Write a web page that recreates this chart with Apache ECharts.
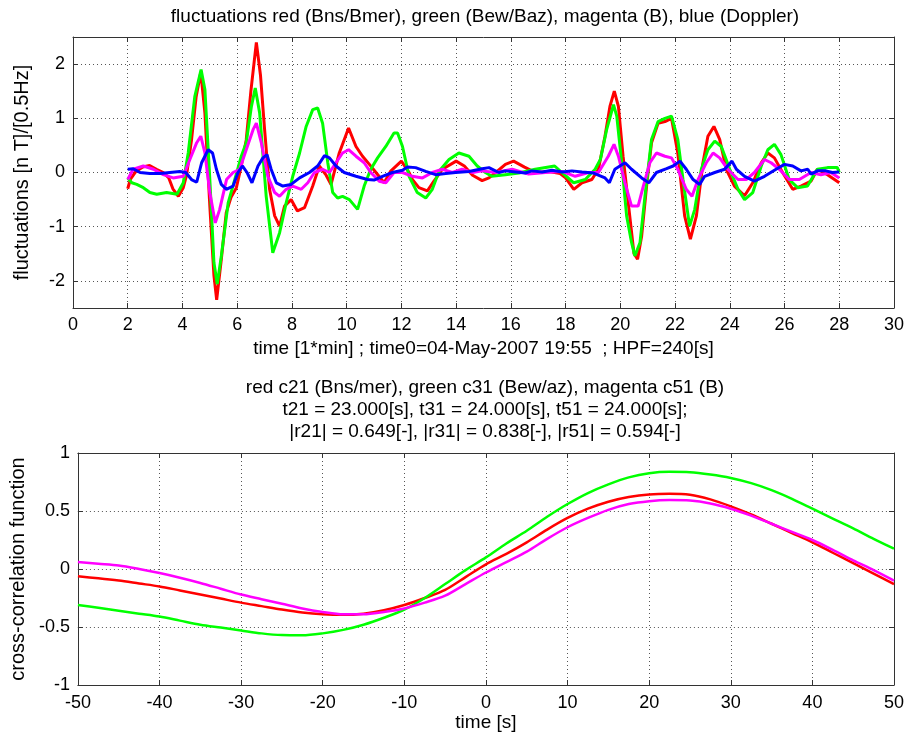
<!DOCTYPE html>
<html>
<head>
<meta charset="utf-8">
<script src="https://cdn.jsdelivr.net/npm/echarts@6/dist/echarts.min.js"></script>
<style>
  html, body { margin: 0; padding: 0; background: #fff; }
  #chart { width: 907px; height: 738px; }
</style>
</head>
<body>
<div id="chart"></div>
<script>
// top panel: fluctuations, time in minutes
const redBns = [[2.0,-0.3],[2.1,-0.12],[2.3,0.02],[2.55,0.1],[2.8,0.13],[3.05,0.06],[3.3,0.0],[3.5,-0.1],[3.65,-0.3],[3.85,-0.44],[4.03,-0.28],[4.15,-0.05],[4.33,0.6],[4.5,1.4],[4.67,1.85],[4.82,1.1],[5.0,-0.62],[5.15,-1.9],[5.25,-2.35],[5.42,-1.6],[5.6,-0.74],[5.78,-0.45],[5.97,-0.28],[6.15,0.12],[6.33,0.6],[6.5,1.5],[6.7,2.4],[6.85,1.8],[7.0,0.8],[7.18,-0.3],[7.37,-0.8],[7.55,-0.99],[7.73,-0.62],[7.97,-0.5],[8.2,-0.71],[8.46,-0.65],[8.76,-0.25],[9.0,0.12],[9.25,-0.05],[9.43,-0.22],[9.73,0.36],[10.07,0.82],[10.34,0.48],[10.58,0.3],[10.83,0.15],[11.07,0.0],[11.37,-0.19],[11.6,0.02],[12.0,0.21],[12.28,0.0],[12.4,-0.13],[12.64,-0.28],[12.95,-0.34],[13.19,-0.16],[13.5,0.06],[14.0,0.21],[14.3,0.12],[14.6,-0.05],[14.95,-0.15],[15.2,-0.1],[15.45,0.0],[15.8,0.15],[16.1,0.21],[16.5,0.1],[16.9,0.0],[17.4,0.02],[17.8,-0.02],[18.0,-0.1],[18.3,-0.31],[18.6,-0.19],[18.96,-0.13],[19.2,0.06],[19.44,0.67],[19.62,1.22],[19.78,1.5],[19.93,1.22],[20.1,0.3],[20.29,-0.56],[20.5,-1.5],[20.63,-1.6],[20.78,-1.17],[20.96,-0.25],[21.14,0.55],[21.38,0.91],[21.63,0.94],[21.87,1.0],[22.1,0.36],[22.35,-0.8],[22.56,-1.23],[22.78,-0.8],[23.02,0.18],[23.2,0.67],[23.42,0.85],[23.63,0.61],[23.87,0.06],[24.17,-0.25],[24.54,-0.43],[24.84,-0.19],[25.15,0.18],[25.39,0.36],[25.63,0.27],[25.93,0.0],[26.3,-0.31],[26.6,-0.25],[26.97,-0.16],[27.2,0.06],[27.57,-0.04],[28.0,-0.19]];
const greenBew = [[2.0,-0.1],[2.15,-0.19],[2.33,-0.22],[2.57,-0.28],[2.81,-0.37],[3.06,-0.4],[3.42,-0.37],[3.8,-0.4],[4.03,-0.19],[4.21,0.36],[4.45,1.4],[4.68,1.9],[4.82,1.53],[5.0,-0.13],[5.15,-1.66],[5.27,-2.06],[5.42,-1.54],[5.67,-0.56],[5.91,-0.13],[6.15,0.3],[6.33,0.55],[6.52,1.22],[6.66,1.56],[6.82,1.1],[7.06,-0.44],[7.3,-1.48],[7.55,-1.11],[7.79,-0.56],[8.03,-0.07],[8.28,0.36],[8.52,0.85],[8.76,1.16],[8.94,1.19],[9.12,0.91],[9.31,0.18],[9.49,-0.37],[9.67,-0.47],[9.85,-0.44],[10.1,-0.5],[10.4,-0.68],[10.64,-0.25],[10.88,0.06],[11.13,0.27],[11.43,0.48],[11.73,0.73],[11.86,0.73],[12.04,0.48],[12.28,-0.07],[12.58,-0.37],[12.89,-0.47],[13.13,-0.31],[13.37,0.02],[13.74,0.24],[14.1,0.36],[14.47,0.3],[14.77,0.12],[15.07,0.0],[15.3,-0.07],[15.8,-0.04],[16.29,-0.01],[16.89,0.06],[17.6,0.12],[18.0,-0.06],[18.3,-0.19],[18.72,-0.13],[19.08,0.06],[19.27,0.24],[19.5,0.79],[19.75,1.25],[19.87,1.04],[20.05,0.18],[20.23,-0.8],[20.41,-1.29],[20.53,-1.54],[20.72,-1.29],[20.9,-0.44],[21.14,0.61],[21.38,0.94],[21.63,1.0],[21.87,1.04],[22.1,0.61],[22.29,-0.13],[22.53,-0.99],[22.72,-0.68],[22.96,0.06],[23.2,0.42],[23.45,0.58],[23.69,0.48],[24.0,0.06],[24.3,-0.31],[24.54,-0.5],[24.84,-0.37],[25.15,0.12],[25.39,0.42],[25.63,0.52],[25.87,0.33],[26.17,-0.13],[26.48,-0.28],[26.84,-0.25],[27.2,0.06],[27.57,0.09],[27.93,0.09],[28.0,0.0]];
const magentaB = [[2.0,-0.13],[2.2,0.06],[2.57,0.12],[2.94,0.06],[3.3,-0.04],[3.66,-0.1],[4.03,-0.07],[4.27,0.24],[4.52,0.55],[4.67,0.67],[4.82,0.36],[5.0,-0.37],[5.2,-0.93],[5.36,-0.68],[5.61,-0.13],[5.85,0.0],[6.09,0.06],[6.33,0.42],[6.58,0.79],[6.7,0.91],[6.88,0.55],[7.12,-0.07],[7.37,-0.37],[7.55,-0.44],[7.79,-0.31],[8.03,-0.25],[8.34,-0.31],[8.58,-0.19],[8.82,0.0],[9.12,0.06],[9.37,0.0],[9.61,0.18],[9.85,0.36],[10.07,0.42],[10.34,0.3],[10.64,0.18],[10.88,0.0],[11.19,-0.16],[11.43,-0.19],[11.73,0.0],[12.04,0.0],[12.4,-0.07],[12.77,-0.1],[13.13,0.0],[13.5,0.06],[13.86,0.0],[14.22,0.06],[14.6,0.0],[14.95,0.03],[15.44,0.0],[16.05,0.06],[16.65,-0.03],[17.26,0.0],[17.87,0.02],[18.35,-0.07],[18.84,0.0],[19.2,0.0],[19.56,0.3],[19.77,0.52],[19.93,0.3],[20.17,-0.19],[20.41,-0.62],[20.65,-0.62],[20.84,-0.25],[21.08,0.18],[21.32,0.36],[21.63,0.3],[21.87,0.27],[22.1,0.06],[22.41,-0.31],[22.62,-0.44],[22.84,-0.13],[23.14,0.18],[23.39,0.36],[23.63,0.27],[23.93,0.06],[24.3,-0.13],[24.6,-0.13],[24.9,0.0],[25.27,0.24],[25.51,0.18],[25.81,0.06],[26.17,-0.13],[26.54,-0.13],[26.97,0.0],[27.33,-0.04],[27.69,0.0],[28.0,-0.1]];
const blueDoppler = [[2.0,0.06],[2.2,0.07],[2.45,0.0],[2.81,-0.02],[3.18,-0.02],[3.54,0.0],[3.9,0.02],[4.12,0.0],[4.33,-0.13],[4.52,-0.18],[4.7,0.18],[4.94,0.42],[5.1,0.36],[5.24,0.06],[5.42,-0.22],[5.6,-0.31],[5.85,-0.25],[6.03,0.0],[6.19,0.12],[6.36,0.0],[6.54,-0.19],[6.76,0.12],[6.94,0.27],[7.09,0.33],[7.24,0.06],[7.43,-0.19],[7.67,-0.25],[7.97,-0.22],[8.28,-0.1],[8.64,0.0],[8.94,0.12],[9.19,0.31],[9.37,0.27],[9.61,0.12],[9.91,0.0],[10.34,-0.07],[10.76,-0.13],[11.0,-0.14],[11.31,-0.07],[11.67,0.0],[12.04,0.04],[12.22,0.1],[12.52,0.09],[12.89,0.02],[13.25,-0.04],[13.62,-0.02],[13.98,0.0],[14.47,0.02],[14.95,0.07],[15.2,0.09],[15.56,0.0],[15.8,0.03],[16.17,0.01],[16.53,-0.01],[16.77,0.03],[17.14,0.01],[17.5,0.04],[17.87,0.01],[18.23,0.03],[18.6,0.01],[19.02,-0.01],[19.44,-0.1],[19.6,-0.19],[19.8,0.06],[20.17,0.18],[20.41,0.06],[20.78,-0.1],[21.04,-0.19],[21.32,0.0],[21.69,0.07],[21.93,0.12],[22.18,0.21],[22.41,0.06],[22.66,-0.13],[22.9,-0.22],[23.08,-0.07],[23.45,0.0],[23.81,0.06],[24.08,0.21],[24.24,0.06],[24.54,-0.07],[24.9,-0.16],[25.27,-0.07],[25.69,0.06],[26.0,0.15],[26.3,0.12],[26.6,0.03],[26.85,0.06],[26.97,-0.03],[27.2,0.03],[27.51,0.03],[27.75,0.0],[28.0,0.01]];

// bottom panel: cross-correlation vs lag [s]
const lagSec = [-50,-47.5,-45,-42.5,-40,-37.5,-35,-32.5,-30,-27.5,-25,-22.5,-20,-17.5,-15,-12.5,-10,-7.5,-5,-2.5,0,2.5,5,7.5,10,12.5,15,17.5,20,22.5,25,27.5,30,32.5,35,37.5,40,42.5,45,47.5,50];
const c21 = [-0.063,-0.08,-0.1,-0.125,-0.15,-0.185,-0.22,-0.255,-0.29,-0.32,-0.35,-0.375,-0.39,-0.395,-0.385,-0.355,-0.31,-0.25,-0.18,-0.07,0.04,0.13,0.23,0.34,0.44,0.52,0.58,0.62,0.643,0.649,0.64,0.6,0.54,0.47,0.39,0.31,0.23,0.14,0.05,-0.04,-0.13];
const c31 = [-0.31,-0.335,-0.36,-0.385,-0.41,-0.445,-0.48,-0.505,-0.53,-0.555,-0.57,-0.572,-0.555,-0.525,-0.48,-0.42,-0.35,-0.25,-0.13,-0.01,0.1,0.22,0.33,0.45,0.56,0.655,0.73,0.79,0.826,0.838,0.835,0.815,0.785,0.74,0.68,0.605,0.52,0.435,0.35,0.26,0.175];
const c51 = [0.06,0.045,0.03,0.0,-0.035,-0.075,-0.12,-0.17,-0.22,-0.26,-0.3,-0.34,-0.37,-0.39,-0.39,-0.37,-0.34,-0.29,-0.23,-0.13,-0.03,0.06,0.15,0.26,0.36,0.44,0.51,0.56,0.585,0.594,0.59,0.565,0.52,0.46,0.39,0.32,0.25,0.165,0.075,-0.01,-0.1];

const topYTicks = [-2, -1, 0, 1, 2];

const FONT = "'Liberation Sans', Arial, sans-serif";
const AXIS_COLOR = '#333';

function pair(xs, ys) {
  return xs.map((x, i) => [x, ys[i]]);
}

function mainAxis(extra) {
  return Object.assign({
    type: 'value',
    axisLine: { show: true, onZero: false, lineStyle: { color: AXIS_COLOR, width: 1 } },
    axisTick: { show: true, inside: true, length: 5, lineStyle: { color: AXIS_COLOR } },
    axisLabel: { color: '#000', fontSize: 18, fontFamily: FONT, margin: 8 },
    splitLine: { show: true, lineStyle: { color: '#555', width: 1, type: [1, 3] } },
    nameTextStyle: { color: '#000', fontSize: 19, fontFamily: FONT },
  }, extra);
}

function boxAxis(extra) {
  return Object.assign({
    type: 'value',
    axisLine: { show: true, onZero: false, lineStyle: { color: AXIS_COLOR, width: 1 } },
    axisTick: { show: true, inside: true, length: 5, lineStyle: { color: AXIS_COLOR } },
    axisLabel: { show: false },
    splitLine: { show: false },
  }, extra);
}

function line(name, data, color, width, xi, yi, smooth) {
  return {
    name,
    type: 'line',
    data,
    xAxisIndex: xi,
    yAxisIndex: yi,
    symbol: 'none',
    smooth: smooth || false,
    lineStyle: { color, width },
    itemStyle: { color },
    z: 3,
  };
}

const chart = echarts.init(document.getElementById('chart'), null, { renderer: 'canvas' });

const option = {
  animation: false,
  backgroundColor: '#fff',
  grid: [
    { left: 73, top: 37, width: 824, height: 271 },
    { left: 73, top: 453, width: 824, height: 232 },
  ],
  xAxis: [
    mainAxis({
      gridIndex: 0, position: 'bottom', min: 0, max: 30, interval: 2,
      name: 'time [1*min] ; time0=04-May-2007 19:55  ; HPF=240[s]',
      nameLocation: 'middle', nameGap: 31,
    }),
    boxAxis({ gridIndex: 0, position: 'top', min: 0, max: 30, interval: 2 }),
    mainAxis({
      gridIndex: 1, position: 'bottom', min: -50, max: 50, interval: 10,
      axisLabel: { color: '#000', fontSize: 18, fontFamily: FONT, margin: 9 },
      name: 'time [s]', nameLocation: 'middle', nameGap: 25,
    }),
    boxAxis({ gridIndex: 1, position: 'top', min: -50, max: 50, interval: 10 }),
  ],
  yAxis: [
    mainAxis({
      gridIndex: 0, position: 'left', min: -2.5, max: 2.5,
      axisTick: { show: true, inside: true, length: 5, lineStyle: { color: AXIS_COLOR }, customValues: topYTicks },
      axisLabel: { color: '#000', fontSize: 18, fontFamily: FONT, margin: 8, customValues: topYTicks },
      name: 'fluctuations [n T]/[0.5Hz]', nameLocation: 'middle', nameGap: 41,
      nameTextStyle: { color: '#000', fontSize: 20, fontFamily: FONT },
    }),
    boxAxis({
      gridIndex: 0, position: 'right', min: -2.5, max: 2.5,
      axisTick: { show: true, inside: true, length: 5, lineStyle: { color: AXIS_COLOR }, customValues: topYTicks },
    }),
    mainAxis({
      gridIndex: 1, position: 'left', min: -1, max: 1, interval: 0.5,
      name: 'cross-correlation function', nameLocation: 'middle', nameGap: 42,
      nameTextStyle: { color: '#000', fontSize: 20, fontFamily: FONT },
    }),
    boxAxis({ gridIndex: 1, position: 'right', min: -1, max: 1, interval: 0.5 }),
  ],
  graphic: [
    {
      type: 'text', x: 485, y: 17,
      style: {
        text: 'fluctuations red (Bns/Bmer), green (Bew/Baz), magenta (B), blue (Doppler)',
        font: '19px ' + FONT, fill: '#000', textAlign: 'center', textVerticalAlign: 'middle',
      },
    },
    {
      type: 'text', x: 485, y: 410,
      style: {
        text: 'red c21 (Bns/mer), green c31 (Bew/az), magenta c51 (B)\n'
          + 't21 = 23.000[s], t31 = 24.000[s], t51 = 24.000[s];\n'
          + '|r21| = 0.649[-], |r31| = 0.838[-], |r51| = 0.594[-]',
        font: '19px ' + FONT, fill: '#000', lineHeight: 22,
        textAlign: 'center', textVerticalAlign: 'middle',
      },
    },
  ],
  series: [
    line('red (Bns/Bmer)', redBns, '#ff0000', 3, 0, 0),
    line('green (Bew/Baz)', greenBew, '#00ff00', 3, 0, 0),
    line('magenta (B)', magentaB, '#ff00ff', 3, 0, 0),
    line('blue (Doppler)', blueDoppler, '#0000ff', 3, 0, 0),
    line('red c21', pair(lagSec, c21), '#ff0000', 2.5, 2, 2, 0.3),
    line('green c31', pair(lagSec, c31), '#00ff00', 2.5, 2, 2, 0.3),
    line('magenta c51', pair(lagSec, c51), '#ff00ff', 2.5, 2, 2, 0.3),
  ],
};

chart.setOption(option);
</script>
</body>
</html>
